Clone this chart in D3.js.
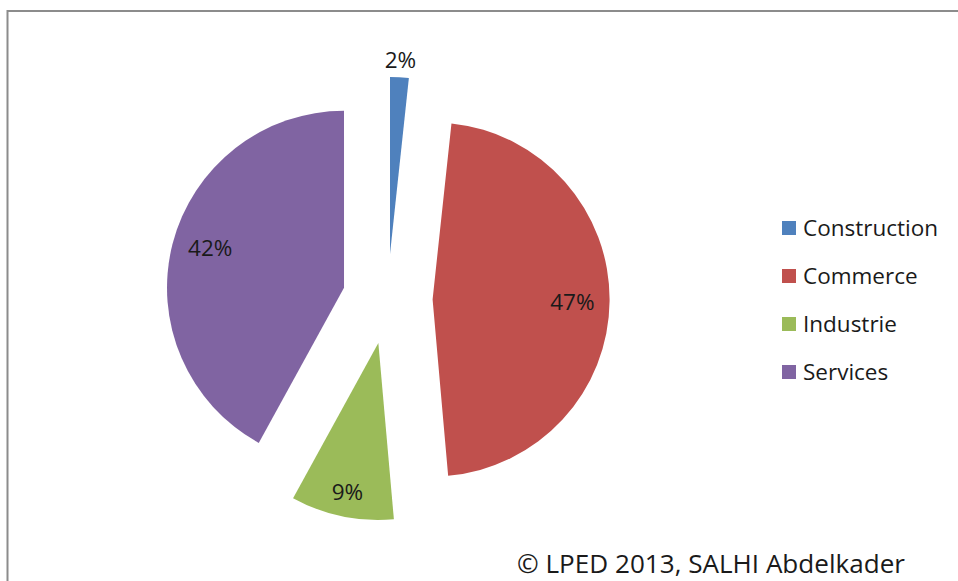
<!DOCTYPE html>
<html>
<head>
<meta charset="utf-8">
<script src="https://cdn.jsdelivr.net/npm/d3@7"></script>
<style>
  html, body { margin: 0; padding: 0; background: #fff; }
  svg { display: block; }
  text { font-family: "Open Sans", "Noto Sans", sans-serif; fill: #1a1a1a; }
</style>
</head>
<body>
<svg id="chart" width="958" height="581"></svg>
<script>
// ---- data ----
const categories = ["Construction", "Commerce", "Industrie", "Services"];
const values = [1.7, 46.9, 9.4, 42.0];
const colors = ["#4F81BD", "#C0504D", "#9BBB59", "#8064A2"];
const credit = "\u00A9 LPED 2013, SALHI Abdelkader";

// ---- layout ----
const W = 958, H = 581;
const cx = 387.6, cy = 299, R = 177, explode = 45;
const fontSize = 22.5;

const svg = d3.select("#chart");

// frame
svg.append("rect")
  .attr("x", 7.5).attr("y", 11)
  .attr("width", W + 20).attr("height", H + 20)
  .attr("fill", "none").attr("stroke", "#8c8c8c").attr("stroke-width", 2);

const data = categories.map((c, i) => ({ name: c, value: values[i], color: colors[i] }));
const pie = d3.pie().value(d => d.value).sort(null);
const arcs = pie(data);
const totalV = d3.sum(values);
const arc = d3.arc().innerRadius(0).outerRadius(R);

const g = svg.append("g").attr("transform", `translate(${cx},${cy})`);

const slice = g.selectAll("g.slice").data(arcs).enter().append("g")
  .attr("class", "slice")
  .attr("transform", d => {
    const a = (d.startAngle + d.endAngle) / 2;
    return `translate(${explode * Math.sin(a)},${-explode * Math.cos(a)})`;
  });

slice.append("path").attr("d", arc).attr("fill", d => d.data.color);

function labelPos(d) {
  const share = d.value / totalV;
  let a = (d.startAngle + d.endAngle) / 2;
  let lr;
  if (share < 0.05) lr = R + 19;
  else if (share < 0.15) lr = R * 0.85;
  else { lr = R * 0.79; if (a > Math.PI) a += 0.045; }
  return [lr * Math.sin(a), -lr * Math.cos(a) + 1];
}

slice.append("text")
  .attr("text-anchor", "middle")
  .attr("dominant-baseline", "central")
  .style("font-size", fontSize + "px")
  .attr("x", d => labelPos(d)[0])
  .attr("y", d => labelPos(d)[1])
  .text(d => Math.round(d.value / totalV * 100) + "%");

// legend
const legend = svg.append("g").attr("transform", "translate(782,236)");
const rows = legend.selectAll("g").data(data).enter().append("g")
  .attr("transform", (d, i) => `translate(0,${i * 48})`);
rows.append("rect")
  .attr("x", 0).attr("y", -15).attr("width", 14).attr("height", 14)
  .attr("fill", d => d.color);
rows.append("text")
  .attr("x", 21).attr("y", 0)
  .style("font-size", fontSize + "px")
  .text(d => d.name);

// credit
svg.append("text")
  .attr("x", 517).attr("y", 573)
  .style("font-size", "25.5px")
  .attr("textLength", 388)
  .attr("lengthAdjust", "spacingAndGlyphs")
  .text(credit);
</script>
</body>
</html>
